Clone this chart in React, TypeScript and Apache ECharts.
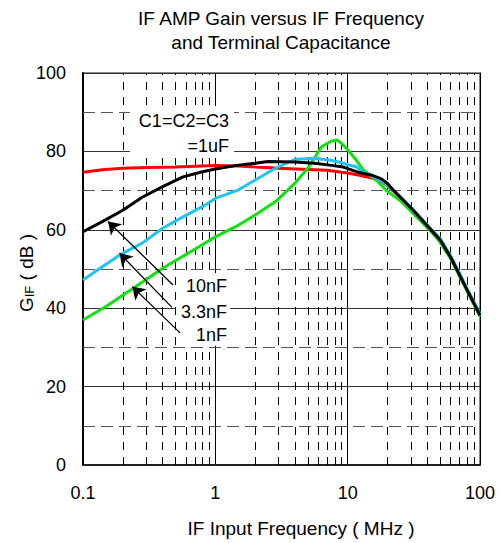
import React, { useEffect, useRef } from "react";
import * as echarts from "echarts";

// ---- Data ----
const redFreq = [0.1, 0.14, 0.2, 0.3, 0.5, 0.8, 1, 1.5, 2, 3, 5, 7, 9, 10, 12, 15, 18, 20, 25, 30, 40, 50, 60, 70, 80, 100];
const redGain = [74.7, 75.3, 75.7, 75.9, 76.0, 76.3, 76.4, 76.3, 76.0, 75.7, 75.4, 75.2, 74.7, 74.5, 74.0, 73.3, 72.3, 71.2, 68.3, 65.3, 60.7, 57.3, 52.8, 48.5, 44.6, 38.2];

const blackFreq = [0.1, 0.14, 0.2, 0.28, 0.4, 0.57, 0.8, 1, 1.5, 2, 2.5, 4, 5.6, 7.3, 9, 10, 12, 15, 18, 20, 22, 25, 30, 40, 50, 60, 70, 80, 100];
const blackGain = [59.5, 62.1, 65.0, 68.3, 71.0, 73.5, 74.8, 75.5, 76.5, 77.0, 77.4, 77.3, 77.0, 76.5, 76.1, 75.6, 74.7, 74.0, 73.0, 71.8, 70.2, 68.3, 65.6, 61.0, 57.4, 53.0, 48.5, 44.6, 38.2];

const blueFreq = [0.1, 0.14, 0.19, 0.28, 0.4, 0.57, 0.8, 1, 1.5, 2, 2.85, 4, 5.6, 7.3, 9, 10, 11.6, 13, 15, 18, 20, 25, 30, 40, 50, 60, 70, 80, 100];
const blueGain = [47.2, 50.6, 53.6, 56.6, 60.4, 63.3, 65.9, 68.0, 70.2, 72.7, 75.7, 78.0, 78.2, 77.8, 77.1, 76.6, 76.1, 74.8, 73.8, 72.5, 71.3, 68.5, 65.8, 61.2, 57.8, 53.4, 49.0, 45.0, 38.6];

const greenFreq = [0.1, 0.15, 0.24, 0.4, 0.68, 1, 1.5, 2, 2.85, 4, 5.1, 6.35, 7.5, 8.3, 9, 10, 11.6, 13, 16.6, 20, 25, 35, 44, 50, 60, 70, 80, 100];
const greenGain = [37.0, 40.5, 45.1, 50.2, 54.8, 58.2, 61.2, 63.8, 67.2, 71.9, 76.1, 81.2, 82.6, 82.9, 82.0, 80.4, 77.8, 75.5, 72.5, 69.8, 67.4, 62.5, 59.1, 56.8, 52.6, 48.2, 44.3, 37.9];

const xMinorGrid = [0.2, 0.3, 0.4, 0.5, 0.6, 0.7, 0.8, 0.9, 2, 3, 4, 5, 6, 7, 8, 9, 20, 30, 40, 50, 60, 70, 80, 90];
const yMinorGrid = [10, 30, 50, 70, 90];

// arrows: [tailFreq, tailGain, tipFreq, tipGain]
const arrow10nF = [0.479, 45.9, 0.1546, 62.1];
const arrow3n3F = [0.47, 40.2, 0.189, 54.0];
const arrow1nF = [0.541, 33.7, 0.236, 45.5];

// annotation labels: [text, freq (right edge), gain (middle)]
const annotLabels: [string, number, number][] = [
  ["C1=C2=C3", 1.267, 87.8],
  ["=1uF", 1.267, 81.4],
  ["10nF", 1.227, 45.7],
  ["3.3nF", 1.227, 39.0],
  ["1nF", 1.227, 33.2],
];
// white label boxes: [freq0, gain0, freq1, gain1]
const labelBoxes = [
  [0.2264, 91.6, 1.384, 78.3],
  [0.505, 49.0, 1.296, 30.4],
];

const titleLines = ["IF AMP Gain versus IF Frequency", "and Terminal Capacitance"];
const xAxisTitle = "IF Input Frequency ( MHz )";

const FONT = "'Liberation Sans', Arial, Helvetica, sans-serif";

function pairs(f: number[], g: number[]) {
  return f.map((x, i) => [x, g[i]]);
}

function arrowData(a: number[]) {
  return [{ coord: [a[0], a[1]] }, { coord: [a[2], a[3]] }];
}

export default function App() {
  const ref = useRef<HTMLDivElement>(null);
  useEffect(() => {
    const chart = echarts.init(ref.current!, null, { renderer: "svg" });
    const curveStyle = (color: string) => ({ color, width: 3 });
    const txt = (text: string, x: number, y: number, size: number, align: string) => ({
      type: "text",
      x,
      y,
      style: {
        text,
        fill: "#000",
        fontSize: size,
        fontFamily: FONT,
        align,
        verticalAlign: "middle",
      },
    });
    chart.setOption({
      animation: false,
      textStyle: { fontFamily: FONT },
      grid: {
        left: 83,
        right: 20,
        top: 73,
        bottom: 78,
        show: true,
        borderColor: "#8a8a8a",
        borderWidth: 2,
      },
      xAxis: {
        type: "log",
        logBase: 10,
        min: 0.1,
        max: 100,
        z: 0,
        axisLine: { show: true, onZero: false, lineStyle: { color: "#222", width: 2 } },
        axisTick: { show: false },
        splitLine: { show: true, lineStyle: { color: "#000", width: 1 } },
        axisLabel: {
          fontSize: 18,
          color: "#000",
          margin: 19,
          fontFamily: FONT,
          formatter: (v: number) => String(Math.round(v * 1000) / 1000),
        },
      },
      yAxis: {
        type: "value",
        min: 0,
        max: 100,
        interval: 20,
        z: 0,
        axisLine: { show: true, lineStyle: { color: "#000", width: 2 } },
        axisTick: { show: false },
        splitLine: { show: true, lineStyle: { color: "#333", width: 1 } },
        axisLabel: { fontSize: 18, color: "#000", margin: 17, fontFamily: FONT },
      },
      graphic: [
        txt(titleLines[0], 281, 18, 19, "center"),
        txt(titleLines[1], 281, 42, 19, "center"),
        txt(xAxisTitle, 301, 528, 19, "center"),
        {
          type: "text",
          x: 25,
          y: 273,
          rotation: Math.PI / 2,
          style: {
            text: "{g|G}{s|IF}{g| ( dB )}",
            align: "center",
            verticalAlign: "middle",
            fill: "#000",
            rich: {
              g: { fontSize: 19, fontFamily: FONT, fill: "#000", verticalAlign: "bottom", lineHeight: 22 },
              s: { fontSize: 13, fontFamily: FONT, fill: "#000", verticalAlign: "bottom", lineHeight: 18 },
            },
          },
        },
      ],
      series: [
        {
          type: "line",
          data: [],
          z: 1,
          silent: true,
          markLine: {
            z: 1,
            silent: true,
            symbol: "none",
            label: { show: false },
            animation: false,
            lineStyle: { color: "#000", width: 1, type: [8, 7] },
            data: xMinorGrid.map((v) => ({ xAxis: v })),
          },
        },
        {
          type: "line",
          data: [],
          z: 1,
          silent: true,
          markLine: {
            z: 1,
            silent: true,
            symbol: "none",
            label: { show: false },
            animation: false,
            lineStyle: { color: "#555", width: 1, type: [12, 6] },
            data: yMinorGrid.map((v) => ({ yAxis: v })),
          },
        },
        {
          type: "line",
          data: [],
          z: 3,
          silent: true,
          markArea: {
            z: 3,
            silent: true,
            animation: false,
            itemStyle: { color: "#ffffff", opacity: 1, borderWidth: 0 },
            label: { show: false },
            data: labelBoxes.map((b) => [{ coord: [b[0], b[1]] }, { coord: [b[2], b[3]] }]),
          },
        },
        { name: "1uF", type: "line", z: 5, showSymbol: false, symbol: "none", data: pairs(redFreq, redGain), lineStyle: curveStyle("#ff0000") },
        { name: "1nF", type: "line", z: 5, showSymbol: false, symbol: "none", data: pairs(greenFreq, greenGain), lineStyle: curveStyle("#11e011") },
        { name: "3.3nF", type: "line", z: 5, showSymbol: false, symbol: "none", data: pairs(blueFreq, blueGain), lineStyle: curveStyle("#22c3f3") },
        { name: "10nF", type: "line", z: 5, showSymbol: false, symbol: "none", data: pairs(blackFreq, blackGain), lineStyle: curveStyle("#000000") },
        {
          type: "line",
          data: [],
          z: 6,
          silent: true,
          markLine: {
            z: 6,
            silent: true,
            symbol: ["none", "arrow"],
            symbolSize: 12,
            label: { show: false },
            animation: false,
            lineStyle: { color: "#000", width: 1.3, type: "solid" },
            data: [arrowData(arrow10nF), arrowData(arrow3n3F), arrowData(arrow1nF)],
          },
        },
        {
          type: "line",
          data: [],
          z: 7,
          silent: true,
          markPoint: {
            z: 7,
            silent: true,
            animation: false,
            symbol: "circle",
            symbolSize: 0,
            itemStyle: { color: "transparent" },
            data: annotLabels.map((a) => ({
              coord: [a[1], a[2]],
              value: a[0],
              label: {
                show: true,
                position: [0, 0],
                align: "right",
                verticalAlign: "middle",
                formatter: a[0],
                color: "#000",
                fontSize: 18,
                fontFamily: FONT,
              },
            })),
          },
        },
      ],
    });
    return () => chart.dispose();
  }, []);
  return <div ref={ref} style={{ position: "absolute", left: 0, top: 0, width: 500, height: 543 }} />;
}
